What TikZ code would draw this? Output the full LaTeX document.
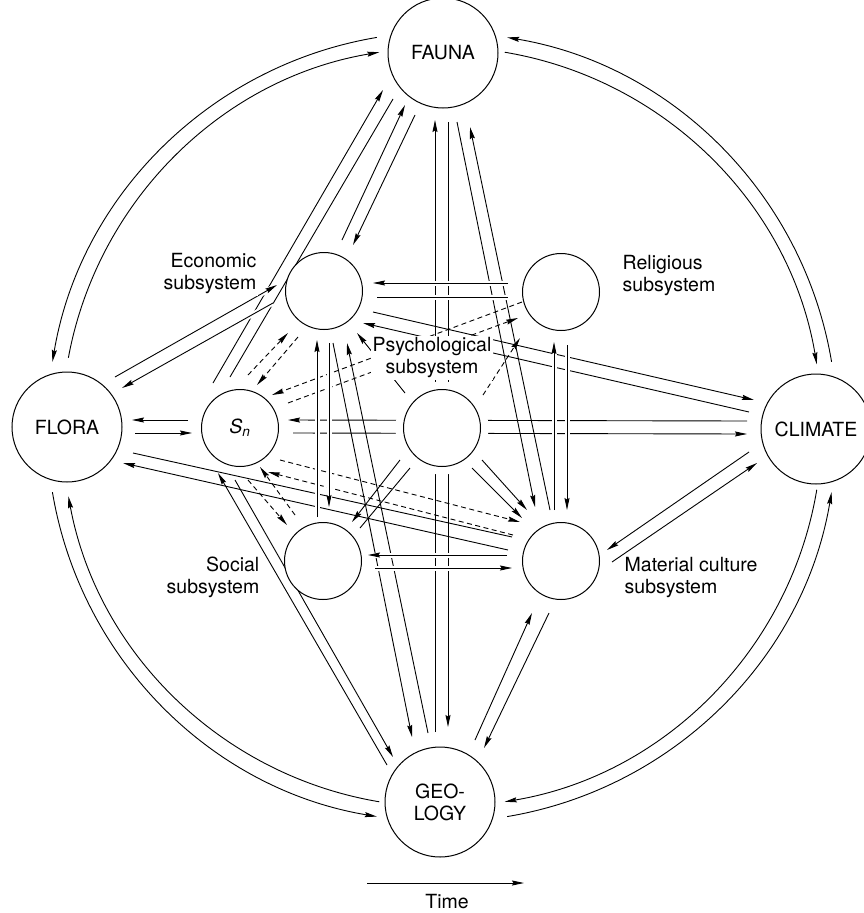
\documentclass[tikz,border=0pt]{standalone}
\usepackage{fontspec}
\setmainfont{TeX Gyre Heros}
\usetikzlibrary{arrows.meta,calc}
\pgfdeclarelayer{lines}
\pgfsetlayers{lines,main}
\newcommand\labfont{\fontsize{19.5bp}{22bp}\selectfont}
% connector: [style]{from node}{dx}{dy}{to node}{dx}{dy}  (offsets from node centres)
\newcommand\cn[7][]{\draw[#1] ([shift={(#3,#4)}]#2.center) -- ([shift={(#6,#7)}]#5.center);}
\tikzset{
  big/.style={circle, draw, line width=1bp, minimum size=110bp, inner sep=0pt, fill=white, font=\labfont, align=center},
  sm/.style={circle, draw, line width=1bp, minimum size=77bp, inner sep=0pt, fill=white, font=\labfont},
  lab/.style={font=\labfont, inner sep=1.5bp, fill=white},
  ln/.style={line width=0.9bp},
  ar/.style={ln, -{Stealth[length=12bp,width=5bp,inset=1.5bp]}},
  dsh/.style={dash pattern=on 5bp off 3.5bp},
  over/.style={preaction={draw=white, line width=5bp, solid, -}}
}
\begin{document}
\begin{tikzpicture}[x=1bp, y=-1bp]
\useasboundingbox (0,0) rectangle (864,913);
% nodes
\node[big] (FA) at (443,53) {FAUNA};
\node[big] (FL) at (67,427) {FLORA};
\node[big] (CL) at (816,429) {CLIMATE};
\node[big] (GE) at (440,802) {GEO-\\LOGY};
\node[sm] (EC) at (324,291) {};
\node[sm] (RE) at (561,292) {};
\node[sm, preaction={draw=white, line width=16bp}] (PS) at (442,428) {};
\node[sm] (SN) at (240,428) {\textit{S}\textsubscript{\textit{n}}};
\node[sm] (SO) at (323,561) {};
\node[sm] (MA) at (561,561) {};
% labels
\node[lab, anchor=east, align=right] (lEC) at (258,274) {Economic\\subsystem};
\node[lab, anchor=west, align=left] (lRE) at (621,276) {Religious\\subsystem};
\node[lab, align=center] (lPS) at (432,358) {Psychological\\subsystem};
\node[lab, anchor=east, align=right] (lSO) at (261,577) {Social\\subsystem};
\node[lab, anchor=west, align=left] (lMA) at (623,578) {Material culture\\subsystem};
\coordinate (O) at (442,427);
\coordinate (t1) at (367,883);
\coordinate (t2) at (524,883);
\node[font=\labfont] (time) at (447,902) {Time};

\begin{pgfonlayer}{lines}
% outer ring (anticlockwise)
\draw[ar] ($(O)+(9.5:395bp)$) arc[start angle=9.5, end angle=80.5, radius=395bp];
\draw[ar] ($(O)+(99.5:395bp)$) arc[start angle=99.5, end angle=170.5, radius=395bp];
\draw[ar] ($(O)+(189.5:395bp)$) arc[start angle=189.5, end angle=260.5, radius=395bp];
\draw[ar] ($(O)+(279.5:395bp)$) arc[start angle=279.5, end angle=350.5, radius=395bp];
% inner ring (clockwise)
\draw[ar] ($(O)+(169.5:380bp)$) arc[start angle=169.5, end angle=99.5, radius=380bp];
\draw[ar] ($(O)+(80.5:380bp)$) arc[start angle=80.5, end angle=9.5, radius=380bp];
\draw[ar] ($(O)+(350.5:380bp)$) arc[start angle=350.5, end angle=279.5, radius=380bp];
\draw[ar] ($(O)+(260.5:380bp)$) arc[start angle=260.5, end angle=190.5, radius=380bp];
% time
\draw[ar] (t1) -- (t2);

% FAUNA - GEOLOGY
\cn[ar]{GE}{-5}{-70}{FA}{-8}{67}
\cn[ar]{FA}{5}{69}{GE}{8}{-75}
% Sn - CLIMATE
\cn[ar]{CL}{-69}{-8}{SN}{48}{-8}
\cn[ar]{SN}{53}{5}{CL}{-69}{5}
% Sn - FAUNA
\cn[ar]{SN}{-27}{-45}{FA}{-60}{37}
\cn[ln]{SN}{-10}{-51}{FA}{-50}{46}
% Economic - FAUNA
\cn[ar]{EC}{18}{-51}{FA}{-38}{52}
\cn[ar]{FA}{-28}{62}{EC}{29}{-46}
% FAUNA - Material
\cn[ar]{FA}{14}{69}{MA}{-26}{-54}
\cn[ar]{MA}{-11}{-51}{FA}{27}{74}
% Economic - GEOLOGY
\cn[ar]{EC}{9}{52}{GE}{-28}{-65}
\cn[ar]{GE}{-12}{-69}{EC}{23}{52}
% Sn - GEOLOGY
\cn[ar]{GE}{-53}{-37}{SN}{-22}{45}
\cn[ar]{SN}{-5}{52}{GE}{-47}{-45}
% Economic - CLIMATE
\cn[ar]{EC}{49}{21}{CL}{-62}{-29}
\cn[ar]{CL}{-67}{-17}{EC}{39}{32}
% FLORA - Material
\cn[ln]{FL}{66}{26}{MA}{-49}{-24}
\cn[ar]{MA}{-53}{-11}{FL}{56}{36}
% dashed Sn - Economic
\cn[ar,dsh]{SN}{8}{-53}{EC}{-36}{42}
\cn[ar,dsh]{EC}{-26}{46}{SN}{17}{-43}
% dashed Sn - Religious
\cn[ar,dsh]{RE}{-39}{10}{SN}{32}{-33}
\cn[ar,dsh]{SN}{48}{-25}{RE}{-43}{26}
% dashed Sn - Social
\cn[ar,dsh]{SN}{8}{52}{SO}{-36}{-36}
\cn[ar,dsh]{SO}{-28}{-46}{SN}{20}{39}
% dashed Sn - Material
\cn[ar,dsh]{SN}{40}{32}{MA}{-41}{-39}
\cn[ar,dsh]{MA}{-48}{-26}{SN}{28}{44}
% Psych - Economic
\cn[ar]{PS}{-37}{-35}{EC}{33}{42}
% Psych - Religious
\cn[ar,dsh]{PS}{41}{-33}{RE}{-41}{46}
% Psych - Social
\cn[ar]{PS}{-42}{32}{SO}{29}{-39}
\cn[ln]{SO}{37}{-33}{PS}{-32}{40}
% Psych - Material
\cn[ar]{PS}{40}{32}{MA}{-34}{-51}
\cn[ar]{PS}{30}{40}{MA}{-39}{-43}
% CLIMATE - Material
\cn[ar]{CL}{-67}{23}{MA}{46}{-11}
\cn[ar]{MA}{51}{1}{CL}{-59}{34}
% Material - GEOLOGY
\cn[ar]{GE}{35}{-62}{MA}{-29}{52}
\cn[ar]{MA}{-12}{52}{GE}{44}{-54}
% lines drawn over others
\cn[ar,over]{FL}{48}{-50}{EC}{-47}{-6}
\cn[ar,over]{EC}{-51}{12}{FL}{55}{-39}
\cn[ar,over]{RE}{-53}{-9}{EC}{49}{-8}
\cn[ln,over]{EC}{53}{6}{RE}{-53}{5}
\cn[ar,over]{MA}{-54}{-6}{SO}{45}{-6}
\cn[ar,over]{SO}{52}{7}{MA}{-49}{7}
\cn[ar,over]{SO}{-6}{-44}{EC}{-7}{49}
\cn[ar,over]{EC}{5}{52}{SO}{6}{-54}
\cn[ar,over]{MA}{-7}{-51}{RE}{-7}{50}
\cn[ar,over]{RE}{6}{53}{MA}{6}{-51}
% Sn - FLORA
\cn[ar]{SN}{-52}{-8}{FL}{65}{-7}
\cn[ar]{FL}{68}{6}{SN}{-48}{5}
\end{pgfonlayer}
\end{tikzpicture}
\end{document}
